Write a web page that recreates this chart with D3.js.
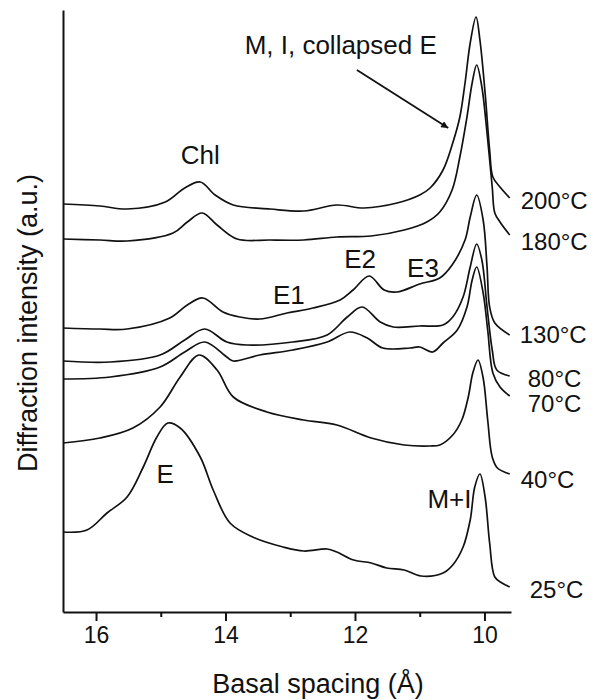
<!DOCTYPE html>
<html>
<head>
<meta charset="utf-8">
<script src="https://cdn.jsdelivr.net/npm/d3@7"></script>
<style>
  body { margin: 0; background: #fff; }
  svg text { font-family: "Liberation Sans", Arial, sans-serif; fill: #111; }
</style>
</head>
<body>
<svg id="chart" width="608" height="700"></svg>
<script>
// basal spacing (A) vs intensity (a.u.), one array per temperature
var temps = ["200°C", "180°C", "130°C", "80°C", "70°C", "40°C", "25°C"]

var t200 = [[16.51,408],[15.94,406],[15.52,403],[14.93,410],[14.63,424],[14.39,430],[14.16,417],[13.88,407],[13.31,403],
  [12.79,401],[12.28,407],[11.86,404],[11.35,409],[11.00,417],[10.84,424],[10.64,442],[10.49,469],[10.38,495],[10.30,529],
  [10.22,569],[10.13,595],[10.07,572],[9.99,519],[9.92,462],[9.87,435],[9.76,425],[9.61,414]]

var t180 = [[16.51,373],[15.94,372],[15.52,371],[14.81,379],[14.59,390],[14.36,399],[14.13,387],[13.82,373],[13.31,372],
  [12.79,372],[12.28,375],[11.75,376],[11.24,382],[10.89,390],[10.69,400],[10.50,422],[10.38,455],[10.27,495],[10.19,529],
  [10.12,547],[10.04,525],[9.96,479],[9.88,425],[9.84,399],[9.76,390],[9.61,377]]

var t130 = [[16.51,284],[15.94,283],[15.52,283],[14.86,294],[14.59,307],[14.35,314],[14.04,300],[13.78,295],[13.47,293],
  [13.05,299],[12.65,304],[12.23,312],[12.03,322],[11.78,336],[11.55,322],[11.35,320],[11.00,328],[10.69,334],[10.50,347],
  [10.30,372],[10.22,395],[10.12,417],[10.02,392],[9.96,345],[9.92,305],[9.84,289],[9.61,277]]

var t80 = [[16.51,251],[15.78,250],[15.01,257],[14.63,272],[14.32,283],[13.98,270],[13.67,267],[12.96,270],[12.43,277],
  [12.12,295],[11.89,305],[11.61,290],[11.41,285],[11.00,286],[10.64,287],[10.49,295],[10.33,315],[10.22,345],[10.12,368],
  [10.04,352],[9.96,305],[9.88,262],[9.81,242],[9.61,236]]

var t70 = [[16.51,233],[15.78,235],[15.01,245],[14.63,260],[14.32,270],[13.98,255],[13.88,251],[13.47,257],[12.96,262],
  [12.43,270],[12.08,280],[11.81,274],[11.57,264],[11.15,264],[11.00,265],[10.80,260],[10.64,269],[10.42,282],[10.27,305],
  [10.19,332],[10.12,345],[10.02,319],[9.95,282],[9.87,239],[9.76,225],[9.61,216]]

var t40 = [[16.51,169],[15.94,174],[15.43,184],[15.01,205],[14.70,235],[14.41,257],[14.13,242],[13.88,215],[13.36,200],
  [12.79,192],[12.28,187],[11.75,174],[11.24,167],[10.84,166],[10.69,167],[10.49,177],[10.35,192],[10.25,215],[10.18,239],
  [10.10,252],[10.02,234],[9.95,192],[9.88,155],[9.80,144],[9.61,138]]

var t25 = [[16.51,80],[16.14,82],[15.83,99],[15.52,115],[15.27,145],[15.06,175],[14.89,189],[14.70,184],[14.39,155],
  [14.19,122],[13.93,89],[13.58,75],[13.11,65],[12.79,61],[12.43,63],[12.28,60],[12.02,52],[11.75,49],[11.51,44],[11.24,42],
  [10.98,36],[10.64,39],[10.49,47],[10.33,65],[10.22,92],[10.15,125],[10.07,138],[9.99,115],[9.92,69],[9.84,35],[9.73,29],[9.61,25]]

var curves = [t200, t180, t130, t80, t70, t40, t25]

var xTicks = [16, 14, 12, 10]
var xMinor = [15, 13, 11]

// peak annotations: text, spacing, intensity
var notes = [["M, I, collapsed E", 12.22, 558], ["Chl", 14.39, 448], ["E1", 13.02, 308], ["E2", 11.92, 344],
  ["E3", 10.95, 335], ["E", 14.93, 129], ["M+I", 10.54, 104]]
var arrowFrom = [11.97, 542]
var arrowTo = [10.56, 484]

var svg = d3.select("#chart")

var x = d3.scaleLinear().domain([16.51, 9.59]).range([63, 511])
var y = d3.scaleLinear().domain([0, 602]).range([612, 10])

// axes
var xAxis = svg.append("g")
  .attr("transform", "translate(0,612)")
  .call(d3.axisBottom(x).tickValues(xTicks).tickSize(9).tickSizeOuter(0).tickPadding(6).tickFormat(d3.format("d")))
xAxis.select(".domain").attr("stroke", "#111").attr("stroke-width", 2)
xAxis.selectAll(".tick line").attr("stroke", "#111").attr("stroke-width", 2)
xAxis.selectAll(".tick text").style("font-size", "23px").attr("fill", "#111")
  .style("font-family", "Liberation Sans, Arial, sans-serif")

var xMin = svg.append("g")
  .attr("transform", "translate(0,612)")
  .call(d3.axisBottom(x).tickValues(xMinor).tickSize(5).tickSizeOuter(0).tickFormat(""))
xMin.select(".domain").remove()
xMin.selectAll(".tick line").attr("stroke", "#111").attr("stroke-width", 2)

var yAxis = svg.append("g")
  .attr("transform", "translate(63,0)")
  .call(d3.axisLeft(y).tickValues([]).tickSizeOuter(0))
yAxis.select(".domain").attr("stroke", "#111").attr("stroke-width", 2)

svg.append("text")
  .attr("x", 318)
  .attr("y", 693)
  .style("text-anchor", "middle")
  .style("font-size", "27px")
  .text("Basal spacing (Å)")

svg.append("text")
  .attr("transform", "translate(37,323) rotate(-90)")
  .style("text-anchor", "middle")
  .style("font-size", "27px")
  .text("Diffraction intensity (a.u.)")

// curves
var line = d3.line()
  .x(function (d) { return x(d[0]) })
  .y(function (d) { return y(d[1]) })
  .curve(d3.curveCatmullRom.alpha(0.5))

svg.selectAll(".curve")
  .data(curves)
  .enter()
  .append("path")
  .attr("class", "curve")
  .attr("d", line)
  .attr("fill", "none")
  .attr("stroke", "#111")
  .attr("stroke-width", 1.7)
  .attr("stroke-linejoin", "round")

// temperature labels next to each curve's tail
var labelShift = [[11, 11], [11, 15], [10, 8], [18, 11], [18, 16], [11, 14], [20, 11]]
curves.forEach(function (c, i) {
  var last = c[c.length - 1]
  svg.append("text")
    .attr("x", x(last[0]) + labelShift[i][0])
    .attr("y", y(last[1]) + labelShift[i][1])
    .style("font-size", "24px")
    .text(temps[i])
})

// peak names
svg.selectAll(".note")
  .data(notes)
  .enter()
  .append("text")
  .attr("class", "note")
  .attr("x", function (d) { return x(d[1]) })
  .attr("y", function (d) { return y(d[2]) })
  .style("text-anchor", "middle")
  .style("font-size", "26px")
  .text(function (d) { return d[0] })

svg.append("defs").append("marker")
  .attr("id", "head")
  .attr("viewBox", "0 0 10 10")
  .attr("refX", 10)
  .attr("refY", 5)
  .attr("markerWidth", 9)
  .attr("markerHeight", 7)
  .attr("markerUnits", "userSpaceOnUse")
  .attr("orient", "auto")
  .append("path")
  .attr("d", "M0,0 L10,5 L0,10 Z")
  .attr("fill", "#111")

svg.append("line")
  .attr("x1", x(arrowFrom[0]))
  .attr("y1", y(arrowFrom[1]))
  .attr("x2", x(arrowTo[0]))
  .attr("y2", y(arrowTo[1]))
  .attr("stroke", "#111")
  .attr("stroke-width", 1.8)
  .attr("marker-end", "url(#head)")
</script>
</body>
</html>
